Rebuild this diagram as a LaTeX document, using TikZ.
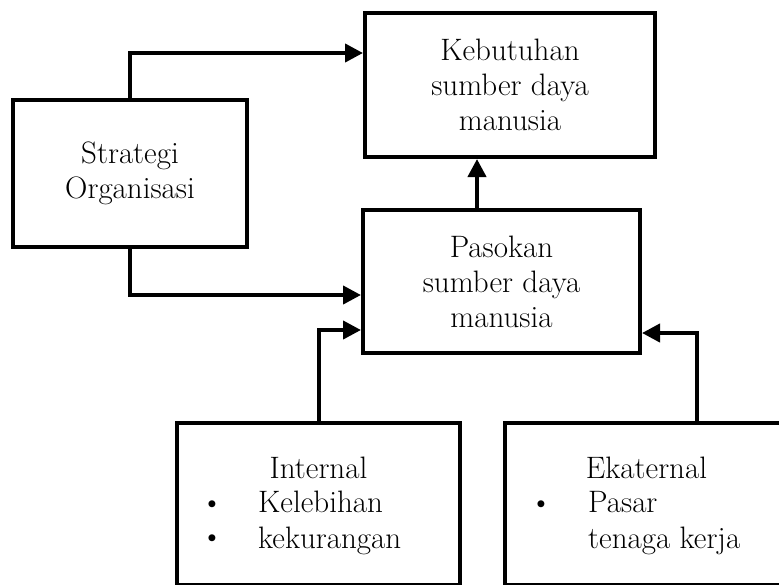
\documentclass[tikz,border=0pt]{standalone}
\usetikzlibrary{arrows.meta}
\begin{document}
\begin{tikzpicture}[x=1pt,y=-1pt,
  box/.style={draw, rectangle, line width=4pt, inner sep=0pt, align=center,
    font=\fontsize{31}{35}\selectfont},
  conn/.style={line width=4pt, -{Triangle[length=18pt,width=18pt]}},
  txt/.style={inner sep=0pt, font=\fontsize{31}{35}\selectfont},
  bul/.style={inner sep=0pt, font=\fontsize{31}{35}\selectfont}]
\useasboundingbox (0,0) rectangle (779,584);
\clip (0,0) rectangle (779,584);
% boxes
\node[box, minimum width=234pt, minimum height=147pt] (strat) at (130,173.5) {Strategi\\Organisasi};
\node[box, minimum width=290pt, minimum height=144pt] (keb) at (510,85) {Kebutuhan\\sumber daya\\manusia};
\node[box, minimum width=277pt, minimum height=143pt] (pas) at (501.5,281.5) {Pasokan\\sumber daya\\manusia};
\node[box, minimum width=283pt, minimum height=162pt] (int) at (318.5,504) {};
\node[box, minimum width=283pt, minimum height=162pt] (ext) at (646.5,504) {};
% texts in bottom boxes
\node[txt, anchor=base] (intT) at (318.5,478) {Internal};
\node[bul, anchor=base] (intBa) at (212,512) {\textbullet};
\node[txt, anchor=base west] (intA) at (258,512) {Kelebihan};
\node[bul, anchor=base] (intBb) at (212,546) {\textbullet};
\node[txt, anchor=base west] (intB) at (258,548) {kekurangan};
\node[txt, anchor=base] (extT) at (646.5,478) {Ekaternal};
\node[bul, anchor=base] (extBa) at (541,512) {\textbullet};
\node[txt, anchor=base west] (extA) at (588,512) {Pasar};
\node[txt, anchor=base west] (extB) at (588,548) {tenaga kerja};
% connectors
\draw[conn] (strat.north) |- ([yshift=32pt]keb.west);
\draw[conn] (strat.south) |- ([yshift=-13.5pt]pas.west);
\draw[conn] ([xshift=-24.5pt]pas.north) -- ([xshift=-33pt]keb.south);
\draw[conn] (int.north) |- ([yshift=-48.5pt]pas.west);
\draw[conn] ([xshift=50.5pt]ext.north) |- ([yshift=-51.5pt]pas.east);
\end{tikzpicture}
\end{document}
